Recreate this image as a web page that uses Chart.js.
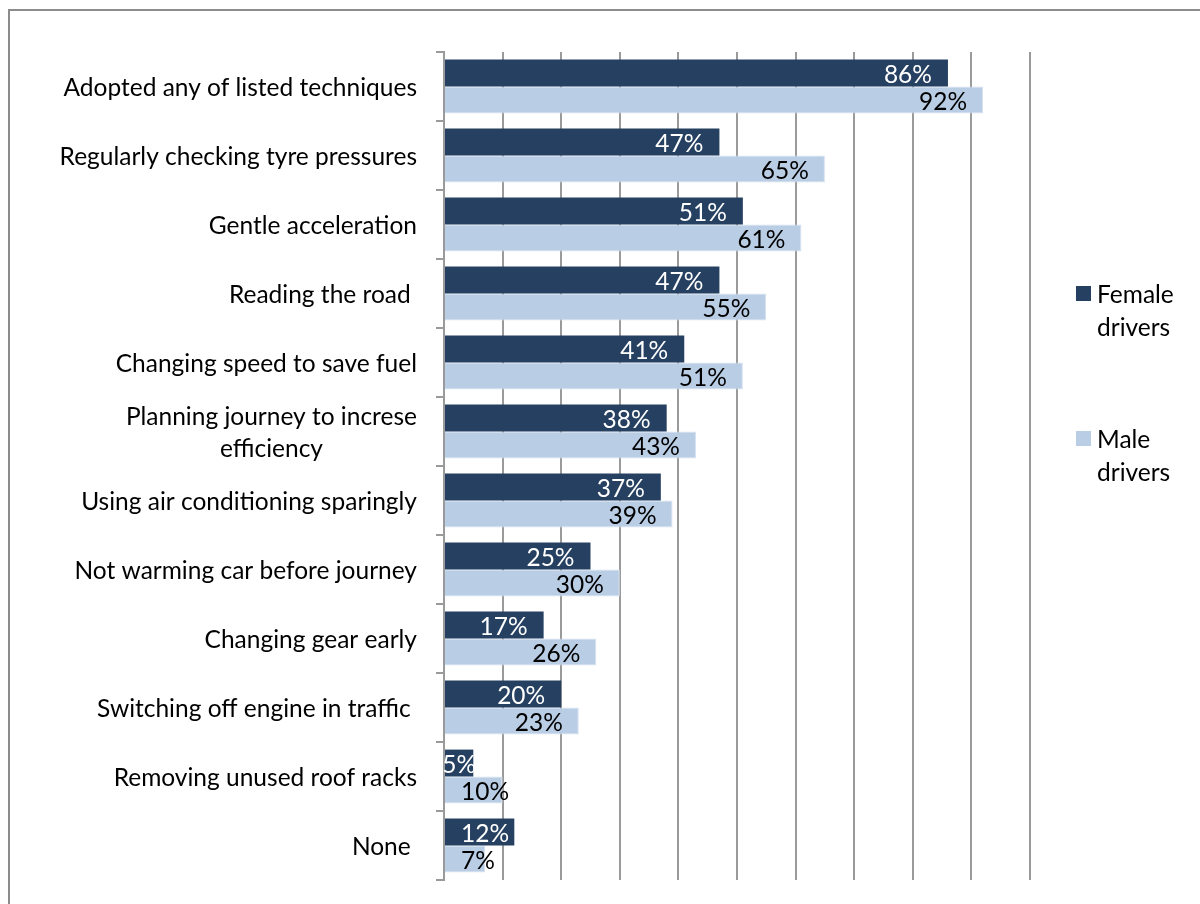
<!DOCTYPE html>
<html>
<head>
<meta charset="utf-8">
<title>Fuel saving techniques by gender</title>
<script src="https://cdn.jsdelivr.net/npm/chart.js@4/dist/chart.umd.min.js"></script>
<style>
  html, body { margin: 0; padding: 0; background: #fff; overflow: hidden; }
  #wrap { position: relative; width: 1200px; height: 904px; }
  #frame { position: absolute; left: 8px; top: 9px; width: 1300px; height: 1000px; border: 2px solid #8c8c8c; box-sizing: border-box; }
  #chart { position: absolute; left: 0; top: 0; }
</style>
</head>
<body>
<div id="wrap">
  <div id="frame"></div>
  <canvas id="chart" width="1200" height="904"></canvas>
</div>
<script>
const categories = [
  'Adopted any of listed techniques',
  'Regularly checking tyre pressures',
  'Gentle acceleration',
  'Reading the road ',
  'Changing speed to save fuel',
  ['Planning journey to increse', 'efficiency'],
  'Using air conditioning sparingly',
  'Not warming car before journey',
  'Changing gear early',
  'Switching off engine in traffic ',
  'Removing unused roof racks',
  'None '
];
const female = [86, 47, 51, 47, 41, 38, 37, 25, 17, 20, 5, 12];
const male = [92, 65, 61, 55, 51, 43, 39, 30, 26, 23, 10, 7];
const legendLines = [['Female', 'drivers'], ['Male', 'drivers']];

const FONT = '24.5px Lato';
const GRID = '#9a9a9a';

// category labels, right aligned block, lines centred inside it
const yLabels = {
  id: 'yLabels',
  afterDraw(chart) {
    const ctx = chart.ctx;
    const y = chart.scales.y;
    const right = 417;
    ctx.save();
    ctx.font = FONT;
    ctx.fillStyle = '#000';
    ctx.textAlign = 'center';
    ctx.textBaseline = 'middle';
    chart.data.labels.forEach((lab, i) => {
      const lines = Array.isArray(lab) ? lab : [lab];
      const maxW = Math.max(...lines.map(l => ctx.measureText(l).width));
      const cy = y.getPixelForValue(i) + 2;
      const lh = 32;
      lines.forEach((l, k) => {
        ctx.fillText(l, right - maxW / 2, cy + (k - (lines.length - 1) / 2) * lh);
      });
    });
    ctx.restore();
  }
};

// value labels at the inside end of each bar
const barValues = {
  id: 'barValues',
  afterDatasetsDraw(chart) {
    const ctx = chart.ctx;
    ctx.save();
    ctx.font = FONT;
    ctx.textAlign = 'left';
    ctx.textBaseline = 'middle';
    chart.data.datasets.forEach((ds, di) => {
      const meta = chart.getDatasetMeta(di);
      ctx.fillStyle = di === 0 ? '#fff' : '#000';
      meta.data.forEach((bar, i) => {
        const txt = ds.data[i] + '%';
        const w = ctx.measureText(txt).width;
        const barW = bar.x - bar.base;
        let left;
        if (w > barW) {
          left = bar.base + (barW - w) / 2;
        } else {
          left = Math.max(bar.x - 16 - w, bar.base + 16);
        }
        ctx.fillText(txt, left, bar.y + 2);
      });
    });
    ctx.restore();
  }
};

// legend on the right, two lines per entry
const sideLegend = {
  id: 'sideLegend',
  afterDraw(chart) {
    const ctx = chart.ctx;
    const tops = [286, 431];
    ctx.save();
    ctx.font = FONT;
    ctx.textBaseline = 'middle';
    ctx.textAlign = 'left';
    chart.data.datasets.forEach((ds, di) => {
      const t = tops[di];
      ctx.fillStyle = ds.backgroundColor;
      ctx.fillRect(1076, t, 15, 15);
      ctx.fillStyle = '#000';
      legendLines[di].forEach((l, k) => {
        ctx.fillText(l, 1097, t + 9 + k * 33);
      });
    });
    ctx.restore();
  }
};

new Chart(document.getElementById('chart'), {
  type: 'bar',
  data: {
    labels: categories,
    datasets: [
      { label: 'Female drivers', data: female, backgroundColor: '#254061', borderWidth: 0 },
      { label: 'Male drivers', data: male, backgroundColor: '#b9cde5', borderColor: '#d6e2f0', borderWidth: 1 }
    ]
  },
  options: {
    indexAxis: 'y',
    responsive: false,
    animation: false,
    events: [],
    layout: { padding: { top: 52, right: 170, bottom: 24, left: 0 } },
    datasets: { bar: { categoryPercentage: 0.78, barPercentage: 1 } },
    plugins: { legend: { display: false }, tooltip: { enabled: false } },
    scales: {
      x: {
        min: 0,
        max: 100,
        ticks: { display: false, stepSize: 10 },
        grid: { color: GRID, lineWidth: 2, drawTicks: false, tickLength: 0 },
        border: { display: false },
        afterFit(s) { s.height = 0; }
      },
      y: {
        ticks: { display: false },
        grid: { offset: true, drawOnChartArea: false, color: GRID, lineWidth: 2, tickLength: 8 },
        border: { display: true, color: GRID, width: 2 },
        afterFit(s) { s.width = 444; }
      }
    }
  },
  plugins: [yLabels, barValues, sideLegend]
});
</script>
</body>
</html>
